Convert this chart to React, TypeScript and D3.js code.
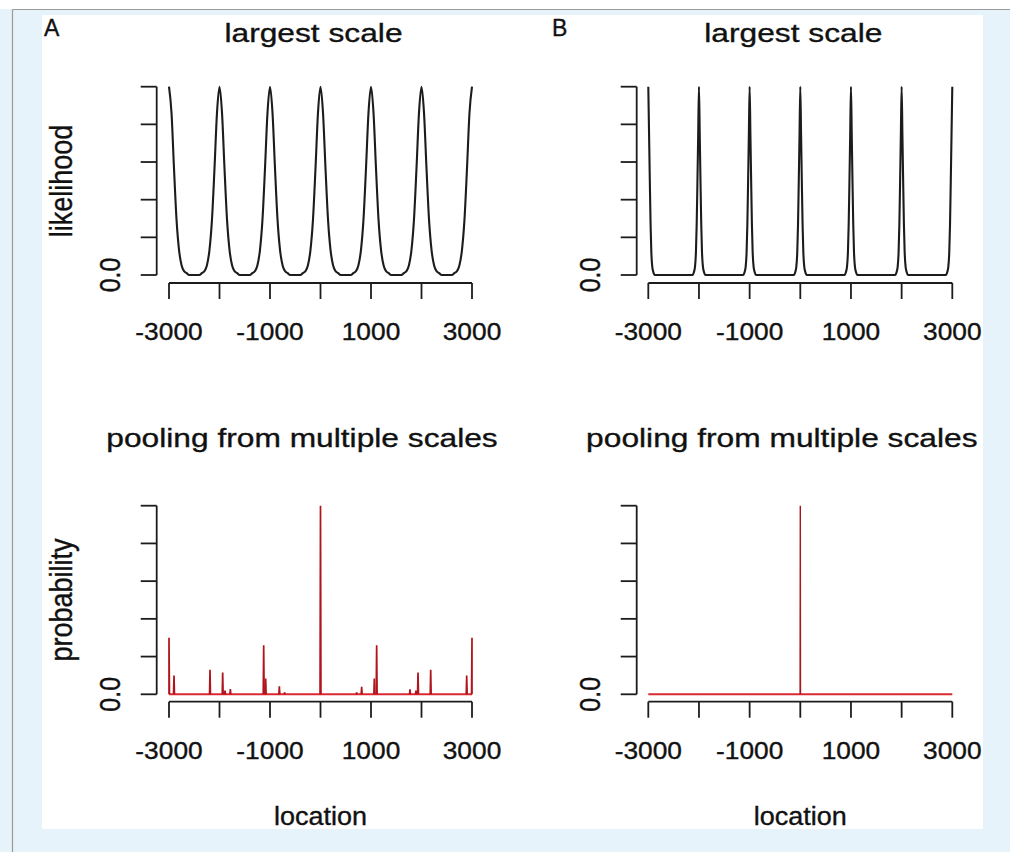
import React from "react";
import * as d3 from "d3";

// ---- data -------------------------------------------------------------
const xTicks = [-3000, -2000, -1000, 0, 1000, 2000, 3000];
const xTickLabels = [-3000, -1000, 1000, 3000];
const yTicks = [0, 0.2, 0.4, 0.6, 0.8, 1.0];

// Panel A, top: likelihood at the largest scale, sampled every 50 units
const likelihoodALoc = d3.range(-3000, 3001, 50);
const likelihoodA = [
  1, 0.86, 0.56, 0.29, 0.13, 0.05, 0.02, 0.01, 0, 0, 0, 0, 0, 0.01, 0.02, 0.05, 0.13, 0.29, 0.56, 0.86,
  1, 0.86, 0.56, 0.29, 0.13, 0.05, 0.02, 0.01, 0, 0, 0, 0, 0, 0.01, 0.02, 0.05, 0.13, 0.29, 0.56, 0.86,
  1, 0.86, 0.56, 0.29, 0.13, 0.05, 0.02, 0.01, 0, 0, 0, 0, 0, 0.01, 0.02, 0.05, 0.13, 0.29, 0.56, 0.86,
  1, 0.86, 0.56, 0.29, 0.13, 0.05, 0.02, 0.01, 0, 0, 0, 0, 0, 0.01, 0.02, 0.05, 0.13, 0.29, 0.56, 0.86,
  1, 0.86, 0.56, 0.29, 0.13, 0.05, 0.02, 0.01, 0, 0, 0, 0, 0, 0.01, 0.02, 0.05, 0.13, 0.29, 0.56, 0.86,
  1, 0.86, 0.56, 0.29, 0.13, 0.05, 0.02, 0.01, 0, 0, 0, 0, 0, 0.01, 0.02, 0.05, 0.13, 0.29, 0.56, 0.86,
  1,
];

// Panel B, top: sharper likelihood peaks, [location, value]
const likelihoodB: [number, number][] = [
  [-3000, 1], [-2985, 0.75], [-2970, 0.5], [-2955, 0.27], [-2940, 0.12], [-2920, 0.04], [-2900, 0.015], [-2870, 0],
  [-2130, 0], [-2100, 0.015], [-2080, 0.04], [-2060, 0.12], [-2045, 0.27], [-2030, 0.5], [-2015, 0.75], [-2000, 1],
  [-1985, 0.75], [-1970, 0.5], [-1955, 0.27], [-1940, 0.12], [-1920, 0.04], [-1900, 0.015], [-1870, 0],
  [-1130, 0], [-1100, 0.015], [-1080, 0.04], [-1060, 0.12], [-1045, 0.27], [-1030, 0.5], [-1015, 0.75], [-1000, 1],
  [-985, 0.75], [-970, 0.5], [-955, 0.27], [-940, 0.12], [-920, 0.04], [-900, 0.015], [-870, 0],
  [-130, 0], [-100, 0.015], [-80, 0.04], [-60, 0.12], [-45, 0.27], [-30, 0.5], [-15, 0.75], [0, 1],
  [15, 0.75], [30, 0.5], [45, 0.27], [60, 0.12], [80, 0.04], [100, 0.015], [130, 0],
  [870, 0], [900, 0.015], [920, 0.04], [940, 0.12], [955, 0.27], [970, 0.5], [985, 0.75], [1000, 1],
  [1015, 0.75], [1030, 0.5], [1045, 0.27], [1060, 0.12], [1080, 0.04], [1100, 0.015], [1130, 0],
  [1870, 0], [1900, 0.015], [1920, 0.04], [1940, 0.12], [1955, 0.27], [1970, 0.5], [1985, 0.75], [2000, 1],
  [2015, 0.75], [2030, 0.5], [2045, 0.27], [2060, 0.12], [2080, 0.04], [2100, 0.015], [2130, 0],
  [2870, 0], [2900, 0.015], [2920, 0.04], [2940, 0.12], [2955, 0.27], [2970, 0.5], [2985, 0.75], [3000, 1],
];

// Panel A, bottom: pooled probability spikes [location, value]
const pooledA: [number, number][] = [
  [-3000, 0.30], [-2901, 0.10], [-2188, 0.13], [-1937, 0.115], [-1891, 0.02], [-1785, 0.028],
  [-1125, 0.26], [-1086, 0.083], [-815, 0.042], [-710, 0.01], [0, 1.0], [716, 0.01], [815, 0.04],
  [1066, 0.083], [1112, 0.26], [1772, 0.027], [1891, 0.02], [1931, 0.115], [2182, 0.13],
  [2895, 0.10], [3000, 0.30],
];

// Panel B, bottom: a single spike
const pooledB: [number, number][] = [[0, 1.0]];

// ---- layout -----------------------------------------------------------
const FONT = "'Liberation Sans', Arial, Helvetica, sans-serif";
const INK = "#1c1c1c";

const cols = [
  { axisX: 156.7, x0: 169, x1: 472, zeroX: 120, ylabX: 72, letter: "A", letterX: 44 },
  { axisX: 636.7, x0: 648.3, x1: 952.3, zeroX: 600, ylabX: 552, letter: "B", letterX: 552 },
];
const rows = [
  { yTop: 86.7, yBot: 275, xAxisY: 283, tickLabelY: 340, titleY: 41.5, title: "largest scale", titleDx: -7, ylab: "likelihood", ylabY: 181 },
  { yTop: 505.7, yBot: 694.3, xAxisY: 701.7, tickLabelY: 758.5, titleY: 447, title: "pooling from multiple scales", titleDx: -18.5, ylab: "probability", ylabY: 600 },
];
const TICK = 16;

type LabelProps = {
  x: number; y: number; size: number; sx?: number; rotate?: boolean;
  anchor?: "start" | "middle" | "end"; children: React.ReactNode;
};
function Label({ x, y, size, sx = 1, rotate = false, anchor = "middle", children }: LabelProps) {
  return (
    <text
      transform={`translate(${x},${y}) scale(${sx},1)${rotate ? " rotate(-90)" : ""}`}
      textAnchor={anchor}
      fontSize={size}
      fontFamily={FONT}
      fill="#111"
      stroke="#111"
      strokeWidth={0.35}
    >
      {children}
    </text>
  );
}

function Axes({ col, row, x, y }: { col: typeof cols[0]; row: typeof rows[0]; x: d3.ScaleLinear<number, number>; y: d3.ScaleLinear<number, number> }) {
  return (
    <g stroke={INK} strokeWidth={1.8} fill="none" strokeLinecap="butt">
      {/* y axis */}
      <line x1={col.axisX} x2={col.axisX} y1={y(0)} y2={y(1)} />
      {yTicks.map((t) => (
        <line key={t} x1={col.axisX - TICK} x2={col.axisX} y1={y(t)} y2={y(t)} />
      ))}
      {/* x axis */}
      <line x1={x(-3000)} x2={x(3000)} y1={row.xAxisY} y2={row.xAxisY} />
      {xTicks.map((t) => (
        <line key={t} x1={x(t)} x2={x(t)} y1={row.xAxisY} y2={row.xAxisY + TICK} />
      ))}
    </g>
  );
}

export default function App() {
  const panels = [];
  for (let r = 0; r < 2; r++) {
    for (let c = 0; c < 2; c++) {
      const col = cols[c];
      const row = rows[r];
      const x = d3.scaleLinear().domain([-3000, 3000]).range([col.x0, col.x1]);
      const y = d3.scaleLinear().domain([0, 1]).range([row.yBot, row.yTop]);
      const mid = (col.x0 + col.x1) / 2;

      let marks: React.ReactNode = null;
      if (r === 0) {
        const pts: [number, number][] =
          c === 0 ? likelihoodALoc.map((l, i) => [l, likelihoodA[i]] as [number, number]) : likelihoodB;
        const line = d3
          .line<[number, number]>()
          .x((d) => x(d[0]))
          .y((d) => y(d[1]))
          .curve(d3.curveMonotoneX);
        marks = <path d={line(pts) || ""} fill="none" stroke={INK} strokeWidth={2.1} strokeLinejoin="round" />;
      } else {
        const spikes = c === 0 ? pooledA : pooledB;
        const half = c === 0 ? 9 : 4;
        const spikeLine = d3
          .line<[number, number]>()
          .x((d) => x(d[0]))
          .y((d) => y(d[1]));
        marks = (
          <g>
            <line x1={x(-3000)} x2={x(3000)} y1={y(0)} y2={y(0)} stroke="#dc2832" strokeWidth={2} />
            {spikes.map(([loc, v], i) => {
              const a = Math.max(-3000, loc - half);
              const b = Math.min(3000, loc + half);
              const d = spikeLine([[a, 0], [loc, v], [b, 0]]) || "";
              return (
                <path key={i} d={d} fill="#d21c26" stroke={c === 0 ? "#b0141c" : "#a8161e"} strokeWidth={c === 0 ? 1.7 : 1.4} strokeLinejoin="miter" />
              );
            })}
          </g>
        );
      }

      panels.push(
        <g key={`${r}-${c}`}>
          <Axes col={col} row={row} x={x} y={y} />
          {marks}
          <Label x={mid + row.titleDx} y={row.titleY} size={26} sx={1.22}>{row.title}</Label>
          {xTickLabels.map((t) => (
            <Label key={t} x={x(t)} y={row.tickLabelY} size={23.5} sx={1.12}>{String(t)}</Label>
          ))}
          <Label x={col.zeroX} y={y(0)} size={25} sx={1.2} rotate>0.0</Label>
          {c === 0 && (
            <Label x={col.ylabX} y={row.ylabY} size={27} sx={1.15} rotate>{row.ylab}</Label>
          )}
          {r === 1 && (
            <Label x={mid} y={825} size={25} sx={1.08}>location</Label>
          )}
          {r === 0 && (
            <Label x={col.letterX} y={36} size={23} anchor="start">{col.letter}</Label>
          )}
        </g>
      );
    }
  }

  return (
    <svg
      width={1010}
      height={852}
      style={{ position: "absolute", left: 0, top: 0, display: "block" }}
    >
      <rect x={0} y={0} width={1010} height={852} fill="#e7f3fa" />
      <rect x={0} y={0} width={1010} height={9} fill="#ffffff" />
      <line x1={12.5} x2={1010} y1={9.5} y2={9.5} stroke="#9a9a9a" strokeWidth={1.2} />
      <line x1={12.5} x2={12.5} y1={9.5} y2={852} stroke="#9a9a9a" strokeWidth={1.2} />
      <rect x={42} y={15} width={941} height={814} fill="#ffffff" />
      {panels}
    </svg>
  );
}
